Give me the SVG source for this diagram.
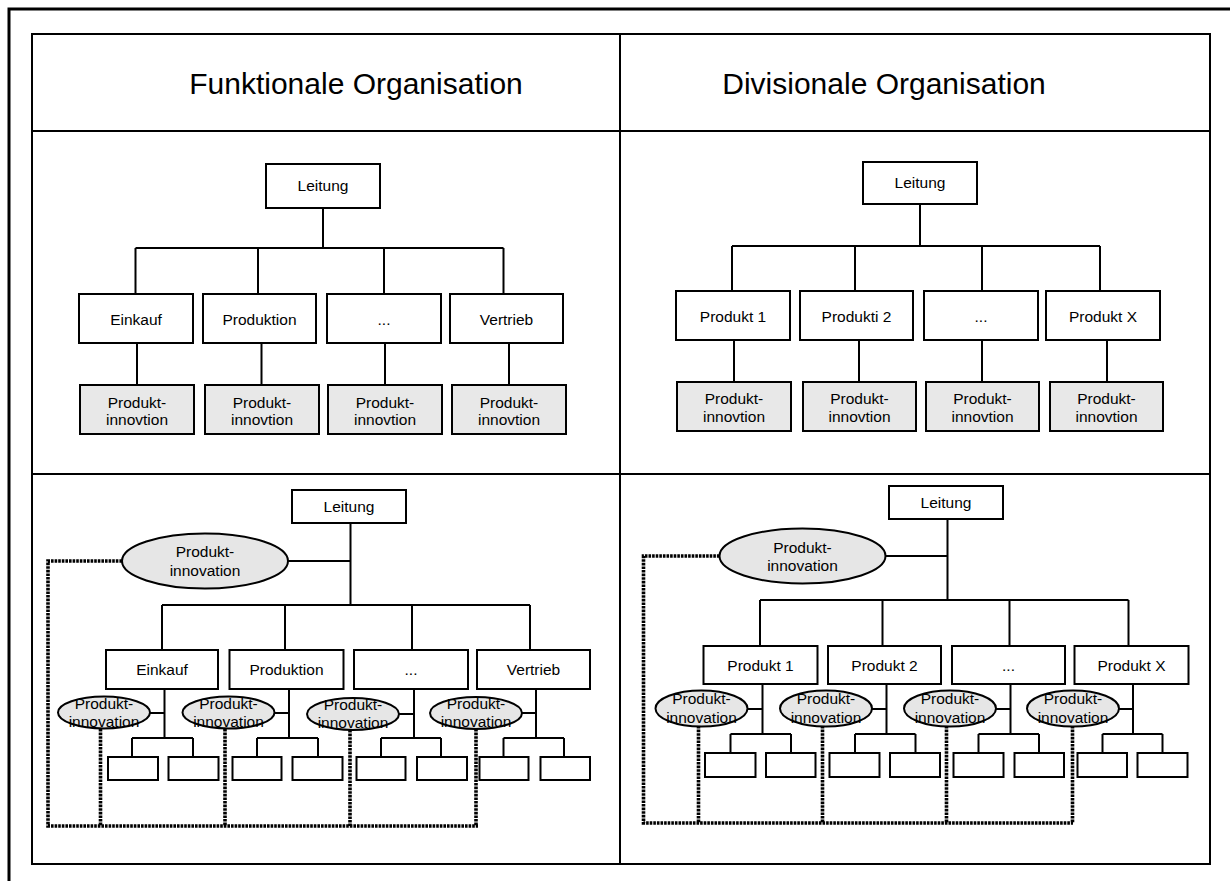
<svg xmlns="http://www.w3.org/2000/svg" width="1230" height="881" viewBox="0 0 1230 881">
<style>
text{font-family:"Liberation Sans",Arial,sans-serif;fill:#000;text-anchor:middle}
.h{font-size:30px}
.t{font-size:15.5px}
.b{fill:#fff;stroke:#000;stroke-width:2}
.g{fill:#e8e8e8;stroke:#000;stroke-width:2}
.e{fill:#e6e6e6;stroke:#000;stroke-width:2}
.c{fill:none;stroke:#000;stroke-width:2}
.d{fill:none;stroke:#000;stroke-width:3.6;stroke-dasharray:2.6 1}
.f{fill:none;stroke:#000;stroke-width:2}
</style>
<rect width="1230" height="881" fill="#fff"/>
<g id="frame">
<path d="M9 881 V9 H1230" fill="none" stroke="#000" stroke-width="3"/>
<rect x="32" y="34" width="1178" height="830" class="f"/>
<path d="M32 131 H1210 M32 474 H1210 M620 34 V864" class="f"/>
</g>
<g id="headers">
<text class="h" x="356" y="94">Funktionale Organisation</text>
<text class="h" x="884" y="94">Divisionale Organisation</text>
</g>
<g id="connectors">
<path class="c" d="M323 208 V248 M135.5 248 H503.5 M135.5 248 V294 M258 248 V294 M384 248 V294 M503.5 248 V294 M137 343 V385 M261.5 343 V385 M385 343 V385 M509 343 V385"/>
<path class="c" d="M920 204 V246 M732 246 H1100 M732 246 V291 M855 246 V291 M982 246 V291 M1100 246 V291 M734 340 V382 M859 340 V382 M982 340 V382 M1107 340 V382"/>
<path class="c" d="M350.5 523 V605 M288 561 H350.5 M162 605 H530 M162 605 V650 M285 605 V650 M412 605 V650 M530 605 V650 M164.5 689 V738 M289 689 V738 M414 689 V738 M536 689 V738 M150 713 H164.5 M274.5 713 H289 M399 714 H414 M522 713 H536 M132 738 H193 M132 738 V757 M193 738 V757 M257 738 H318 M257 738 V757 M318 738 V757 M381 738 H441 M381 738 V757 M441 738 V757 M503.5 738 H564 M503.5 738 V757 M564 738 V757"/>
<path class="c" d="M947.5 519 V600 M885.5 556 H947.5 M760 600 H1128.5 M760 600 V646 M882.5 600 V646 M1009.5 600 V646 M1128.5 600 V646 M762.5 684 V734 M886.5 684 V734 M1010.5 684 V734 M1133 684 V734 M747.5 709 H762.5 M872 709 H886.5 M996 709 H1010.5 M1119 709 H1133 M730.5 734 H791 M730.5 734 V753 M791 734 V753 M855 734 H915.5 M855 734 V753 M915.5 734 V753 M978.5 734 H1039 M978.5 734 V753 M1039 734 V753 M1102.5 734 H1162.5 M1102.5 734 V753 M1162.5 734 V753"/>
<path class="d" d="M122 561 H48 V826 H478 M100.5 729 V826 M225 729 V826 M350 730 V826 M476 729 V826"/>
<path class="d" d="M719.5 556 H643.5 V823 H1073 M698.5 726 V823 M822.5 726 V823 M946.5 726 V823 M1072.5 726 V823"/>
</g>
<!-- top-left -->
<g id="tl-leitung"><rect class="b" x="266" y="164" width="114" height="44"/><text class="t" x="323" y="191">Leitung</text></g>
<g id="tl-einkauf"><rect class="b" x="79" y="294" width="114" height="49"/><text class="t" x="136" y="325">Einkauf</text></g>
<g id="tl-produktion"><rect class="b" x="203" y="294" width="113" height="49"/><text class="t" x="259.5" y="325">Produktion</text></g>
<g id="tl-dots"><rect class="b" x="327" y="294" width="114" height="49"/><text class="t" x="384" y="325">...</text></g>
<g id="tl-vertrieb"><rect class="b" x="450" y="294" width="113" height="49"/><text class="t" x="506.5" y="325">Vertrieb</text></g>
<g id="tl-pi1"><rect class="g" x="80" y="385" width="114" height="49"/><text class="t" x="137" y="408">Produkt-</text><text class="t" x="137" y="425">innovtion</text></g>
<g id="tl-pi2"><rect class="g" x="205" y="385" width="114" height="49"/><text class="t" x="262" y="408">Produkt-</text><text class="t" x="262" y="425">innovtion</text></g>
<g id="tl-pi3"><rect class="g" x="328" y="385" width="114" height="49"/><text class="t" x="385" y="408">Produkt-</text><text class="t" x="385" y="425">innovtion</text></g>
<g id="tl-pi4"><rect class="g" x="452" y="385" width="114" height="49"/><text class="t" x="509" y="408">Produkt-</text><text class="t" x="509" y="425">innovtion</text></g>
<!-- top-right -->
<g id="tr-leitung"><rect class="b" x="863" y="162" width="114" height="42"/><text class="t" x="920" y="188">Leitung</text></g>
<g id="tr-p1"><rect class="b" x="676" y="291" width="114" height="49"/><text class="t" x="733" y="322">Produkt 1</text></g>
<g id="tr-p2"><rect class="b" x="800" y="291" width="113" height="49"/><text class="t" x="856.5" y="322">Produkti 2</text></g>
<g id="tr-dots"><rect class="b" x="924" y="291" width="114" height="49"/><text class="t" x="981" y="322">...</text></g>
<g id="tr-px"><rect class="b" x="1046" y="291" width="114" height="49"/><text class="t" x="1103" y="322">Produkt X</text></g>
<g id="tr-pi1"><rect class="g" x="677" y="382" width="114" height="49"/><text class="t" x="734" y="404">Produkt-</text><text class="t" x="734" y="422">innovtion</text></g>
<g id="tr-pi2"><rect class="g" x="803" y="382" width="113" height="49"/><text class="t" x="859.5" y="404">Produkt-</text><text class="t" x="859.5" y="422">innovtion</text></g>
<g id="tr-pi3"><rect class="g" x="926" y="382" width="113" height="49"/><text class="t" x="982.5" y="404">Produkt-</text><text class="t" x="982.5" y="422">innovtion</text></g>
<g id="tr-pi4"><rect class="g" x="1050" y="382" width="113" height="49"/><text class="t" x="1106.5" y="404">Produkt-</text><text class="t" x="1106.5" y="422">innovtion</text></g>
<!-- bottom-left -->
<g id="bl-leitung"><rect class="b" x="292" y="490" width="114" height="33"/><text class="t" x="349" y="512">Leitung</text></g>
<g id="bl-pi"><ellipse class="e" cx="205" cy="561" rx="83" ry="27.5"/><text class="t" x="205" y="557">Produkt-</text><text class="t" x="205" y="576">innovation</text></g>
<g id="bl-einkauf"><rect class="b" x="106" y="650" width="112" height="39"/><text class="t" x="162" y="675">Einkauf</text></g>
<g id="bl-produktion"><rect class="b" x="229.5" y="650" width="114" height="39"/><text class="t" x="286.5" y="675">Produktion</text></g>
<g id="bl-dots"><rect class="b" x="354" y="650" width="114" height="39"/><text class="t" x="411" y="675">...</text></g>
<g id="bl-vertrieb"><rect class="b" x="477" y="650" width="113" height="39"/><text class="t" x="533.5" y="675">Vertrieb</text></g>
<g id="bl-pi1"><ellipse class="e" cx="104" cy="712.5" rx="46" ry="16"/><text class="t" x="104" y="709">Produkt-</text><text class="t" x="104" y="727">innovation</text></g>
<g id="bl-pi2"><ellipse class="e" cx="228.5" cy="712.5" rx="46" ry="16"/><text class="t" x="228.5" y="709">Produkt-</text><text class="t" x="228.5" y="727">innovation</text></g>
<g id="bl-pi3"><ellipse class="e" cx="353" cy="714" rx="46" ry="16"/><text class="t" x="353" y="710">Produkt-</text><text class="t" x="353" y="728">innovation</text></g>
<g id="bl-pi4"><ellipse class="e" cx="476" cy="713" rx="46" ry="16"/><text class="t" x="476" y="709">Produkt-</text><text class="t" x="476" y="727">innovation</text></g>
<g id="bl-s1"><rect class="b" x="108" y="757" width="50" height="23"/></g>
<g id="bl-s2"><rect class="b" x="168.5" y="757" width="50" height="23"/></g>
<g id="bl-s3"><rect class="b" x="232.5" y="757" width="49" height="23"/></g>
<g id="bl-s4"><rect class="b" x="292.5" y="757" width="50" height="23"/></g>
<g id="bl-s5"><rect class="b" x="356.5" y="757" width="49" height="23"/></g>
<g id="bl-s6"><rect class="b" x="417" y="757" width="50" height="23"/></g>
<g id="bl-s7"><rect class="b" x="479.5" y="757" width="49" height="23"/></g>
<g id="bl-s8"><rect class="b" x="540.5" y="757" width="49.5" height="23"/></g>
<!-- bottom-right -->
<g id="br-leitung"><rect class="b" x="889" y="486" width="114" height="33"/><text class="t" x="946" y="508">Leitung</text></g>
<g id="br-pi"><ellipse class="e" cx="802.5" cy="556" rx="83" ry="27.5"/><text class="t" x="802.5" y="553">Produkt-</text><text class="t" x="802.5" y="571">innovation</text></g>
<g id="br-p1"><rect class="b" x="703.5" y="646" width="114" height="38"/><text class="t" x="760.5" y="671">Produkt 1</text></g>
<g id="br-p2"><rect class="b" x="828" y="646" width="113" height="38"/><text class="t" x="884.5" y="671">Produkt 2</text></g>
<g id="br-dots"><rect class="b" x="952" y="646" width="113" height="38"/><text class="t" x="1008.5" y="671">...</text></g>
<g id="br-px"><rect class="b" x="1074.5" y="646" width="114" height="38"/><text class="t" x="1131.5" y="671">Produkt X</text></g>
<g id="br-pi1"><ellipse class="e" cx="701.5" cy="708.5" rx="46" ry="18"/><text class="t" x="701.5" y="704">Produkt-</text><text class="t" x="701.5" y="723">innovation</text></g>
<g id="br-pi2"><ellipse class="e" cx="826" cy="708.5" rx="46" ry="18"/><text class="t" x="826" y="704">Produkt-</text><text class="t" x="826" y="723">innovation</text></g>
<g id="br-pi3"><ellipse class="e" cx="950" cy="708.5" rx="46" ry="18"/><text class="t" x="950" y="704">Produkt-</text><text class="t" x="950" y="723">innovation</text></g>
<g id="br-pi4"><ellipse class="e" cx="1073" cy="708.5" rx="46" ry="18"/><text class="t" x="1073" y="704">Produkt-</text><text class="t" x="1073" y="723">innovation</text></g>
<g id="br-s1"><rect class="b" x="705" y="753" width="50.5" height="24"/></g>
<g id="br-s2"><rect class="b" x="766" y="753" width="49.5" height="24"/></g>
<g id="br-s3"><rect class="b" x="829.5" y="753" width="50" height="24"/></g>
<g id="br-s4"><rect class="b" x="890" y="753" width="50" height="24"/></g>
<g id="br-s5"><rect class="b" x="953.5" y="753" width="50" height="24"/></g>
<g id="br-s6"><rect class="b" x="1014.5" y="753" width="49.5" height="24"/></g>
<g id="br-s7"><rect class="b" x="1077.5" y="753" width="49.5" height="24"/></g>
<g id="br-s8"><rect class="b" x="1137.5" y="753" width="50" height="24"/></g>
</svg>
